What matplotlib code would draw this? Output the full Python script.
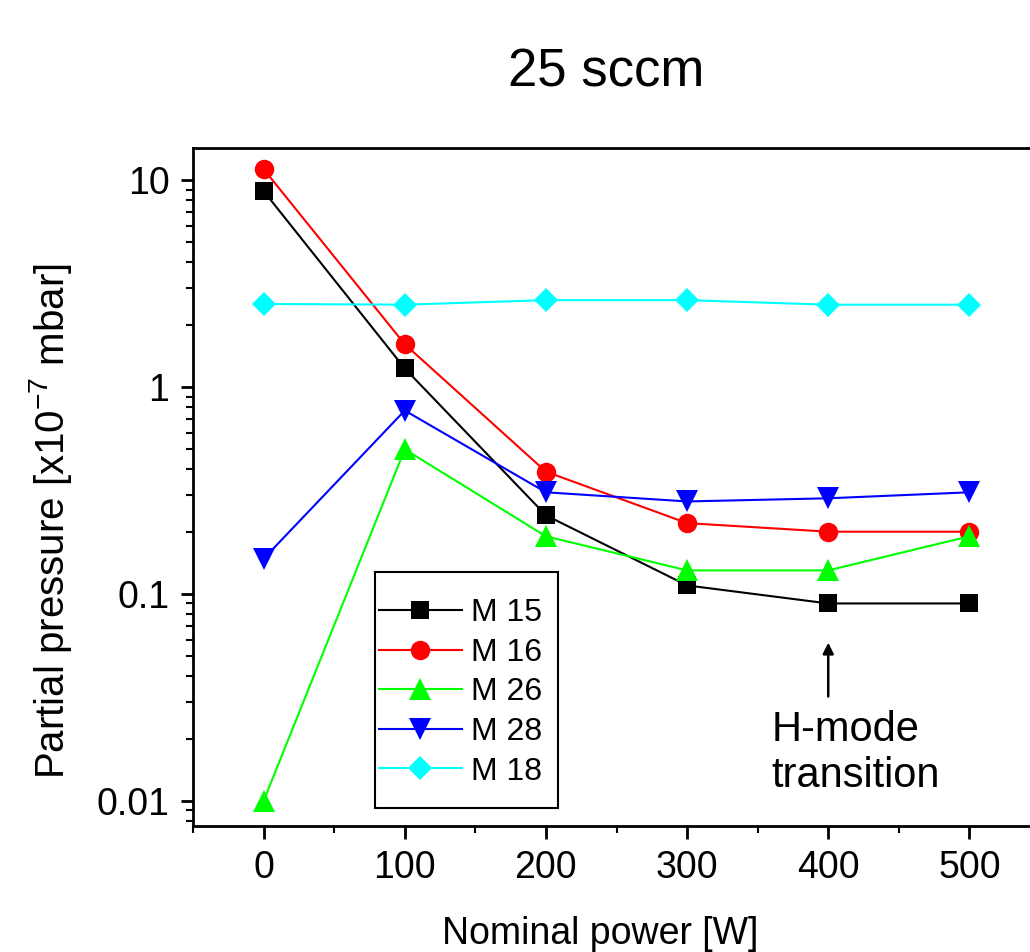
import matplotlib
matplotlib.use("Agg")
import matplotlib.pyplot as plt
from matplotlib.patches import Rectangle
from matplotlib.ticker import LogLocator, FixedLocator, MultipleLocator, FuncFormatter

plt.rcParams["font.family"] = ["Liberation Sans", "DejaVu Sans"]
plt.rcParams["mathtext.fontset"] = "custom"
plt.rcParams["mathtext.rm"] = "Liberation Sans"
plt.rcParams["mathtext.default"] = "regular"

power = [0, 100, 200, 300, 400, 500]
m15 = [8.85, 1.23, 0.24, 0.11, 0.09, 0.09]
m16 = [11.3, 1.61, 0.39, 0.22, 0.20, 0.20]
m26 = [0.01, 0.50, 0.19, 0.13, 0.13, 0.19]
m28 = [0.148, 0.77, 0.31, 0.28, 0.29, 0.31]
m18 = [2.52, 2.5, 2.63, 2.63, 2.5, 2.5]

series = [
    ("M 15", m15, "black", "s", 13),
    ("M 16", m16, "red", "o", 14),
    ("M 26", m26, "#00ff00", "^", 16),
    ("M 28", m28, "blue", "v", 16),
    ("M 18", m18, "cyan", "D", 12),
]

fig = plt.figure(figsize=(10.3, 9.52), dpi=100)
ax = fig.add_axes([0.1874, 0.1324, 0.8223, 0.7122])

for name, vals, col, mk, ms in series:
    ax.plot(power, vals, color=col, marker=mk, markersize=ms, lw=1.5,
            markeredgewidth=0, label=name)

ax.set_yscale("log")
ax.set_xlim(-50, 550)
ax.set_ylim(0.00757, 14.3)

ax.xaxis.set_major_locator(MultipleLocator(100))
ax.xaxis.set_minor_locator(MultipleLocator(50))
ax.yaxis.set_major_locator(FixedLocator([0.01, 0.1, 1, 10]))
ax.yaxis.set_minor_locator(LogLocator(base=10, subs=range(2, 10)))
ax.yaxis.set_major_formatter(FuncFormatter(lambda v, p: f"{v:g}"))
ax.yaxis.set_minor_formatter(FuncFormatter(lambda v, p: ""))

ax.tick_params(which="major", direction="out", length=9, width=2, labelsize=27, pad=8)
ax.tick_params(which="minor", direction="out", length=5, width=1.5)
ax.tick_params(axis="y", which="both", right=False)
ax.tick_params(axis="x", which="both", top=False)
for sp in ax.spines.values():
    sp.set_linewidth(2)

ax.set_xlabel("Nominal power [W]", fontsize=27, labelpad=22)
ax.xaxis.label.set_x(0.4805)
ax.set_ylabel("Partial pressure [x10$^{-7}$ mbar]", fontsize=29)
ax.yaxis.set_label_coords(-0.141, 0.45)
ax.set_title("25 sccm", fontsize=38, pad=44, x=0.4876)

ax.annotate("", xy=(400, 0.06), xytext=(400, 0.031),
            arrowprops=dict(arrowstyle="-|>", color="black", lw=1.8,
                            mutation_scale=16))
ax.text(360, 0.017, "H-mode\ntransition", fontsize=30, ha="left", va="center",
        linespacing=1.2)

# legend frame drawn separately so the padding matches the original
ax.add_patch(Rectangle((0.2149, 0.0265), 0.216, 0.348, transform=ax.transAxes,
                       fill=False, edgecolor="black", lw=1.5, zorder=5))
leg = ax.legend(loc="center left", bbox_to_anchor=(0.2155, 0.197), fontsize=23,
                frameon=False, handlelength=2.6, labelspacing=0.3,
                borderpad=0.1, handletextpad=0.3, borderaxespad=0)

fig.savefig("out.png", dpi=100)
